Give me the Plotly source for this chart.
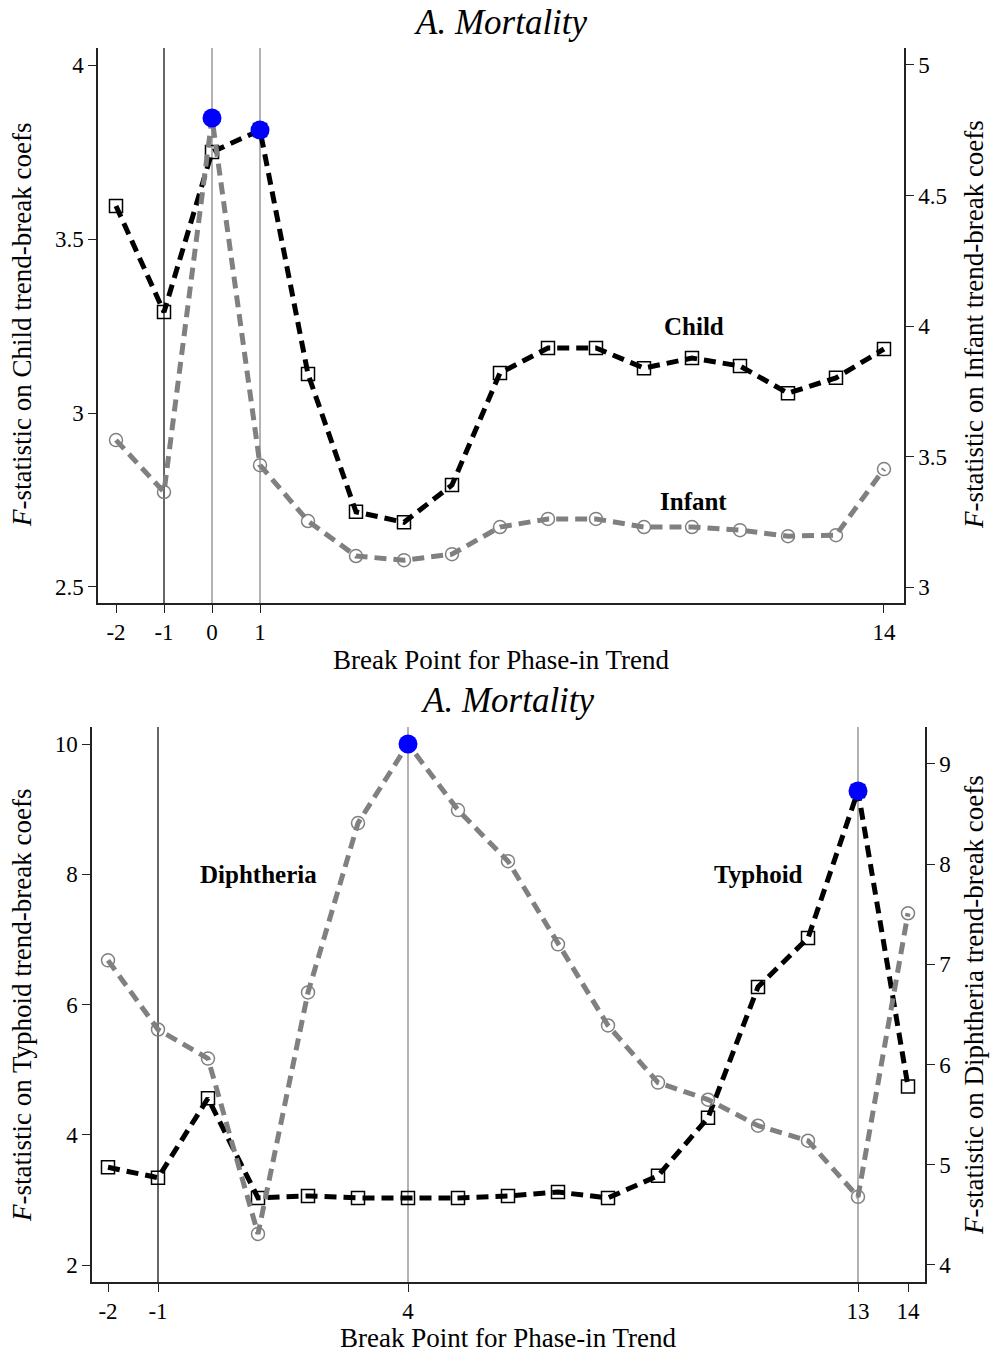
import plotly.graph_objects as go
import numpy as np

# ---- data ----
break_points = [-2, -1, 0, 1, 2, 3, 4, 5, 6, 7, 8, 9, 10, 11, 12, 13, 14]

child_f = [3.595, 3.290, 3.750, 3.813, 3.112, 2.716, 2.686, 2.793, 3.115, 3.187, 3.187,
           3.129, 3.158, 3.135, 3.057, 3.101, 3.184]
infant_f = [3.563, 3.364, 4.797, 3.467, 3.253, 3.119, 3.103, 3.126, 3.230, 3.261, 3.261,
            3.230, 3.230, 3.218, 3.195, 3.199, 3.452]

typhoid_f = [3.50, 3.34, 4.56, 3.03, 3.06, 3.03, 3.03, 3.03, 3.06, 3.12, 3.03,
             3.37, 4.26, 6.27, 7.02, 9.28, 4.74]
diphtheria_f = [7.04, 6.35, 6.06, 4.31, 6.72, 8.41, 9.20, 8.54, 8.03, 7.20, 6.39,
                5.82, 5.65, 5.39, 5.24, 4.68, 7.51]

top_xticks = [-2, -1, 0, 1, 14]
bot_xticks = [-2, -1, 4, 13, 14]
top_vlines_dark = [-1]
top_vlines_gray = [0, 1]
bot_vlines_dark = [-1]
bot_vlines_gray = [4, 13]

child_ticks = [2.5, 3, 3.5, 4]
infant_ticks = [3, 3.5, 4, 4.5, 5]
typhoid_ticks = [2, 4, 6, 8, 10]
diph_ticks = [4, 5, 6, 7, 8, 9]

W, H = 990, 1352
FONT = "Liberation Serif"

def px_x(p):
    return p / W

def px_y(p):
    return (H - p) / H

def lbl(v):
    s = ("%g" % v)
    return s  # plain hyphen-minus

fig = go.Figure()

BLACK_DASH = dict(color="black", width=5, dash="12px,7px")
GRAY_DASH = dict(color="#808080", width=5, dash="12px,7px")

# top panel
fig.add_trace(go.Scatter(x=break_points, y=child_f, mode="lines+markers", line=BLACK_DASH,
                         marker=dict(symbol="square-open", size=13, color="black", line=dict(width=1.5)),
                         xaxis="x", yaxis="y", showlegend=False))
fig.add_trace(go.Scatter(x=break_points, y=infant_f, mode="lines+markers", line=GRAY_DASH,
                         marker=dict(symbol="circle-open", size=13, color="#808080", line=dict(width=1.5)),
                         xaxis="x", yaxis="y2", showlegend=False))
ci = int(np.argmax(child_f)); ii = int(np.argmax(infant_f))
fig.add_trace(go.Scatter(x=[break_points[ci]], y=[child_f[ci]], mode="markers",
                         marker=dict(color="#0000ff", size=19), xaxis="x", yaxis="y", showlegend=False))
fig.add_trace(go.Scatter(x=[break_points[ii]], y=[infant_f[ii]], mode="markers",
                         marker=dict(color="#0000ff", size=19), xaxis="x", yaxis="y2", showlegend=False))

# bottom panel
fig.add_trace(go.Scatter(x=break_points, y=typhoid_f, mode="lines+markers", line=BLACK_DASH,
                         marker=dict(symbol="square-open", size=13, color="black", line=dict(width=1.5)),
                         xaxis="x2", yaxis="y3", showlegend=False))
fig.add_trace(go.Scatter(x=break_points, y=diphtheria_f, mode="lines+markers", line=GRAY_DASH,
                         marker=dict(symbol="circle-open", size=13, color="#808080", line=dict(width=1.5)),
                         xaxis="x2", yaxis="y4", showlegend=False))
ti = int(np.argmax(typhoid_f)); di = int(np.argmax(diphtheria_f))
fig.add_trace(go.Scatter(x=[break_points[ti]], y=[typhoid_f[ti]], mode="markers",
                         marker=dict(color="#0000ff", size=19), xaxis="x2", yaxis="y3", showlegend=False))
fig.add_trace(go.Scatter(x=[break_points[di]], y=[diphtheria_f[di]], mode="markers",
                         marker=dict(color="#0000ff", size=19), xaxis="x2", yaxis="y4", showlegend=False))

# vertical reference lines
for xv in top_vlines_dark:
    fig.add_shape(type="line", xref="x", yref="y domain", x0=xv, x1=xv, y0=0, y1=1,
                  line=dict(color="#333333", width=1.5), layer="below")
for xv in top_vlines_gray:
    fig.add_shape(type="line", xref="x", yref="y domain", x0=xv, x1=xv, y0=0, y1=1,
                  line=dict(color="#999999", width=1.5), layer="below")
for xv in bot_vlines_dark:
    fig.add_shape(type="line", xref="x2", yref="y3 domain", x0=xv, x1=xv, y0=0, y1=1,
                  line=dict(color="#333333", width=1.5), layer="below")
for xv in bot_vlines_gray:
    fig.add_shape(type="line", xref="x2", yref="y3 domain", x0=xv, x1=xv, y0=0, y1=1,
                  line=dict(color="#999999", width=1.5), layer="below")

tickfont = dict(family=FONT, size=23, color="black")
axis_common = dict(showgrid=False, zeroline=False, showline=True, linecolor="#222222", linewidth=1.5,
                   ticks="outside", ticklen=8, tickwidth=1.2, tickcolor="#222222", tickfont=tickfont)

top_dom_x = [px_x(98), px_x(904)]
top_dom_y = [px_y(603), px_y(48)]
bot_dom_x = [px_x(92), px_x(925)]
bot_dom_y = [px_y(1282), px_y(727)]

fig.update_layout(
    width=W, height=H, margin=dict(l=0, r=0, t=0, b=0),
    paper_bgcolor="white", plot_bgcolor="white",
    xaxis=dict(domain=top_dom_x, anchor="y", range=[-2.375, 14.417], tickvals=top_xticks,
               ticktext=[lbl(v) for v in top_xticks], **axis_common),
    yaxis=dict(domain=top_dom_y, anchor="x", range=[2.454, 4.049], tickvals=child_ticks,
               ticktext=[lbl(v) for v in child_ticks], **axis_common),
    yaxis2=dict(overlaying="y", side="right", anchor="x", range=[2.939, 5.065], tickvals=infant_ticks,
                ticktext=[lbl(v) for v in infant_ticks], **axis_common),
    xaxis2=dict(domain=bot_dom_x, anchor="y3", range=[-2.32, 14.34], tickvals=bot_xticks,
                ticktext=[lbl(v) for v in bot_xticks], **axis_common),
    yaxis3=dict(domain=bot_dom_y, anchor="x2", range=[1.739, 10.261], tickvals=typhoid_ticks,
                ticktext=[lbl(v) for v in typhoid_ticks], **axis_common),
    yaxis4=dict(overlaying="y3", side="right", anchor="x2", range=[3.830, 9.369], tickvals=diph_ticks,
                ticktext=[lbl(v) for v in diph_ticks], **axis_common),
)

def ann(text, x, y, size, xref="paper", yref="paper", angle=0, **kw):
    fig.add_annotation(text=text, x=x, y=y, xref=xref, yref=yref, showarrow=False, textangle=angle,
                       font=dict(family=FONT, size=size, color="black"), xanchor="center", yanchor="middle", **kw)

# titles
ann("<i>A. Mortality</i>", px_x(501), px_y(22), 35)
ann("<i>A. Mortality</i>", px_x(508), px_y(700), 35)
# x titles
ann("Break Point for Phase-in Trend", px_x(501), px_y(660), 27)
ann("Break Point for Phase-in Trend", px_x(508), px_y(1338), 27)
# y titles
ann("<i>F</i>-statistic on Child trend-break coefs", px_x(22), px_y(325), 27, angle=-90)
ann("<i>F</i>-statistic on Infant trend-break coefs", px_x(974), px_y(325), 27, angle=-90)
ann("<i>F</i>-statistic on Typhoid trend-break coefs", px_x(22), px_y(1005), 27, angle=-90)
ann("<i>F</i>-statistic on Diphtheria trend-break coefs", px_x(974), px_y(1005), 27, angle=-90)
# series labels
ann("<b>Child</b>", 10.04, 3.25, 25, xref="x", yref="y")
ann("<b>Infant</b>", 10.04, 2.747, 25, xref="x", yref="y")
ann("<b>Diphtheria</b>", 1.0, 7.99, 25, xref="x2", yref="y3")
ann("<b>Typhoid</b>", 11.0, 7.99, 25, xref="x2", yref="y3")

fig.write_html("out.html")
